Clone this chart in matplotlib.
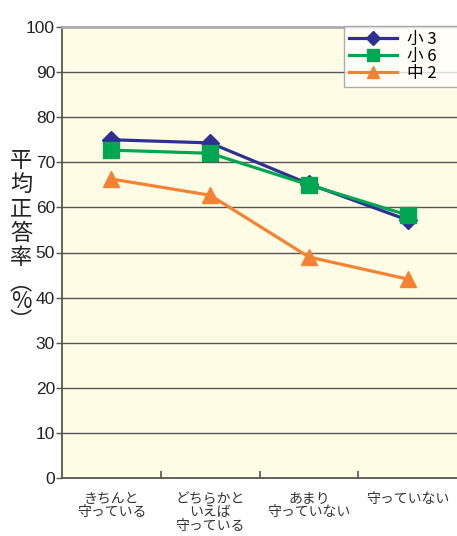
import matplotlib
matplotlib.use("Agg")
import matplotlib.pyplot as plt

# データ
kategori = ["きちんと\n守っている", "どちらかと\nいえば\n守っている", "あまり\n守っていない", "守っていない"]
sho3 = [75.0, 74.3, 65.2, 57.2]
sho6 = [72.7, 72.0, 65.0, 58.3]
chu2 = [66.3, 62.7, 49.0, 44.1]
y_ticks = list(range(0, 101, 10))

plt.rcParams["font.family"] = ["Liberation Sans", "Noto Sans CJK JP", "DejaVu Sans"]

fig = plt.figure(figsize=(4.57, 5.36), dpi=100)
ax = fig.add_axes([62 / 457, 58 / 536, 1 - 62 / 457, (478 - 27) / 536])
ax.set_facecolor("#FFFCE6")

x = list(range(len(kategori)))

# 線とマーカー
ax.plot(x, chu2, color="#F58232", lw=2.3, marker="^", ms=11.5, label="中 2　", zorder=3)
ax.plot(x, sho3, color="#2E3192", lw=2.3, marker="D", ms=9, label="小 3　", zorder=4)
ax.plot(x, sho6, color="#00A651", lw=2.3, marker="s", ms=11.5, label="小 6　", zorder=5)

ax.set_xlim(-0.5, len(kategori) - 0.5)
ax.set_ylim(0, 100)

# 目盛り
ax.set_yticks(y_ticks)
ax.set_yticklabels([str(v) for v in y_ticks], fontsize=12.5, color="#222222")
ax.tick_params(axis="y", direction="out", length=4, width=1, color="#555555", pad=1)
ax.set_xticks(x)
ax.set_xticklabels(kategori, fontsize=10, color="#333333", family="Noto Sans CJK JP",
                   linespacing=0.95, va="top")
ax.tick_params(axis="x", length=0, pad=10)
ax.set_xticks([0.5, 1.5, 2.5], minor=True)
ax.tick_params(axis="x", which="minor", direction="in", length=5, width=1.2, color="#555555")

# グリッド
for v in y_ticks[1:-1]:
    ax.axhline(v, color="#555555", lw=1.0, zorder=1)

for s in ["left", "bottom"]:
    ax.spines[s].set_color("#555555")
    ax.spines[s].set_linewidth(1.3)
ax.spines["top"].set_color("#AAAAAA")
ax.spines["top"].set_linewidth(2)
ax.spines["right"].set_visible(False)

# 凡例
h, l = ax.get_legend_handles_labels()
order = [1, 2, 0]
leg = ax.legend([h[i] for i in order], [l[i] for i in order], loc="upper right",
                bbox_to_anchor=(1.003, 1.003), handlelength=2.9, markerscale=0.75,
                frameon=True, fancybox=False, borderpad=0.3, labelspacing=0.02,
                handletextpad=0.6, borderaxespad=0,
                prop={"family": "Noto Sans CJK JP", "size": 12})
leg.get_frame().set_edgecolor("#999999")
leg.get_frame().set_linewidth(1)
leg.get_frame().set_facecolor("white")
leg.set_zorder(10)

# 縦書きの軸ラベル
fig.text(21 / 457, 1 - 209 / 536, "平\n均\n正\n答\n率", ha="center", va="center",
         fontsize=16, family="Noto Sans CJK JP", color="#222222", linespacing=1.08)
fig.text(21 / 457, 1 - 302 / 536, "︵\n%\n︶", ha="center", va="center",
         fontsize=16, family="Noto Sans CJK JP", color="#222222", linespacing=0.8)

fig.savefig("out.png", dpi=100)
